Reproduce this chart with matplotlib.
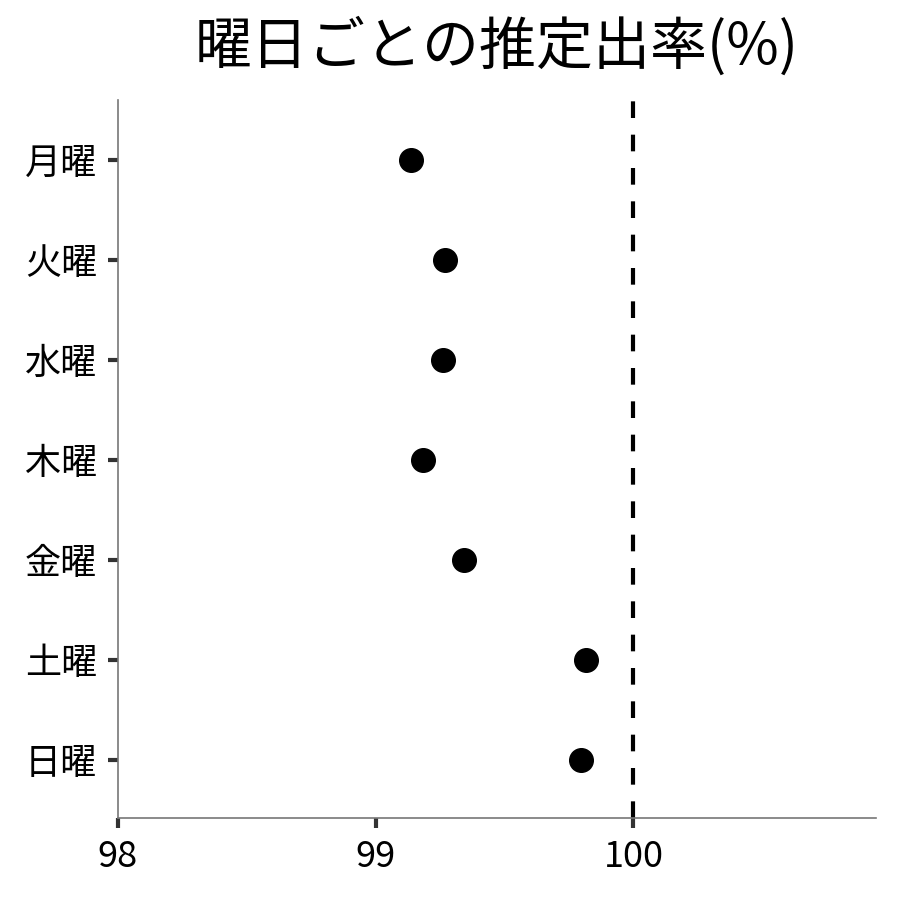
import matplotlib
matplotlib.use("Agg")
import matplotlib.pyplot as plt

plt.rcParams['font.family'] = ['Noto Sans CJK JP', 'DejaVu Sans']

# data
days = ["月曜", "火曜", "水曜", "木曜", "金曜", "土曜", "日曜"]
rates = [99.136, 99.268, 99.261, 99.183, 99.342, 99.817, 99.798]
xticks = [98, 99, 100]
ref_value = 100

fig = plt.figure(figsize=(9, 9), dpi=100)
ax = fig.add_axes([0.131, 0.091, 0.842, 0.798])

ypos = list(range(len(days)))
ax.plot(rates, ypos, "o", color="black", markersize=17, zorder=3)
ax.axvline(ref_value, color="black", linewidth=3, dashes=(4, 4), zorder=2)

ax.set_yticks(ypos)
ax.set_yticklabels(days)
ax.set_xticks(xticks)
ax.set_xlim(98, 100.94)
ax.set_ylim(6.58, -0.6)

for side in ["top", "right"]:
    ax.spines[side].set_visible(False)
for side in ["left", "bottom"]:
    ax.spines[side].set_color("#777777")
    ax.spines[side].set_linewidth(1.2)

ax.tick_params(axis="both", labelsize=26, length=7, width=3, color="#333333", pad=8)

ax.set_title("曜日ごとの推定出率(%)", fontsize=41, pad=26)

fig.savefig("out.png", dpi=100)
plt.close(fig)
